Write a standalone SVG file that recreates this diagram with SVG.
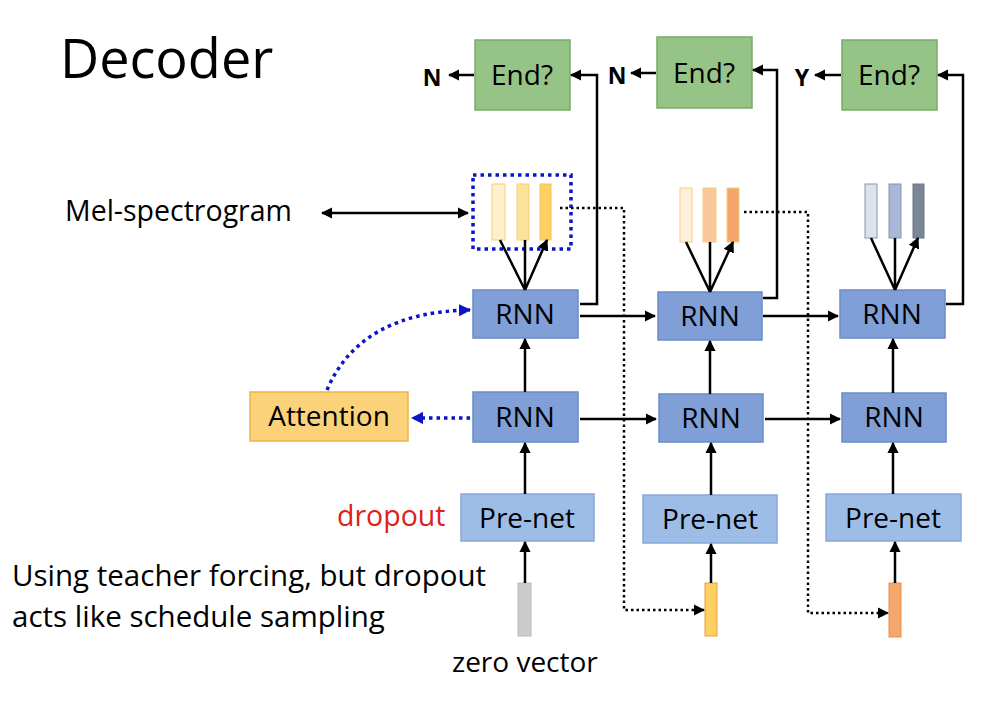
<svg xmlns="http://www.w3.org/2000/svg" width="988" height="701" viewBox="0 0 988 701">
<defs>
<style>
text{font-family:"Open Sans","Liberation Sans",sans-serif;fill:#000}
.end{fill:#96c486;stroke:#7aaa6a;stroke-width:1.5}
.rnn{fill:#7f9fd6;stroke:#6a8cc8;stroke-width:1.5}
.pre{fill:#9dbde6;stroke:#86a8d8;stroke-width:1.5}
.lbl{font-size:28px;text-anchor:middle}
.ln{stroke:#000;stroke-width:2.5;fill:none}
.dot{stroke:#000;stroke-width:2.5;fill:none;stroke-dasharray:2.5 3}
.bd{stroke:#0a14c8;stroke-width:3.5;fill:none;stroke-dasharray:3.5 4}
</style>
<marker id="a" viewBox="0 0 10 10" refX="9" refY="5" markerWidth="4.5" markerHeight="4.5" orient="auto-start-reverse"><path d="M0 0L10 5L0 10z" fill="#000"/></marker>
<marker id="b" viewBox="0 0 10 10" refX="9" refY="5" markerWidth="3.5" markerHeight="3.5" orient="auto"><path d="M0 0L10 5L0 10z" fill="#0a14c8"/></marker>
</defs>
<rect width="988" height="701" fill="#fff"/>
<text x="60" y="78" font-size="54">Decoder</text>
<g id="col1">
<rect class="end" x="475" y="40" width="95" height="70"/><text class="lbl" x="522" y="85">End?</text>
<rect x="492" y="184" width="13" height="56" fill="#fdf0cc" stroke="#f3cf7a"/>
<rect x="517" y="184" width="12" height="56" fill="#fde29a" stroke="#f3cf7a"/>
<rect x="540" y="184" width="11" height="56" fill="#fdd060" stroke="#f0c060"/>
<rect class="bd" x="473" y="175" width="98" height="74"/>
<rect class="rnn" x="473" y="290" width="105" height="48"/><text class="lbl" x="525" y="324">RNN</text>
<rect class="rnn" x="473" y="392" width="105" height="50"/><text class="lbl" x="525" y="427">RNN</text>
<rect class="pre" x="461" y="494" width="133" height="47"/><text class="lbl" x="527" y="528">Pre-net</text>
<rect x="518" y="583" width="13" height="53" fill="#cccccc" stroke="#bbb"/>
</g>
<g id="col2">
<rect class="end" x="657" y="37" width="95" height="71"/><text class="lbl" x="704" y="83">End?</text>
<rect x="680" y="188" width="12" height="54" fill="#fdeedd" stroke="#f3cf7a"/>
<rect x="703" y="188" width="13" height="54" fill="#f8c89a" stroke="#f3cf7a"/>
<rect x="727" y="188" width="12" height="54" fill="#f5a66a" stroke="#f3cf7a"/>
<rect class="rnn" x="658" y="292" width="104" height="48"/><text class="lbl" x="710" y="326">RNN</text>
<rect class="rnn" x="659" y="394" width="104" height="48"/><text class="lbl" x="711" y="428">RNN</text>
<rect class="pre" x="643" y="495" width="134" height="48"/><text class="lbl" x="710" y="529">Pre-net</text>
<rect x="705" y="583" width="12" height="53" fill="#fdd060" stroke="#e8a040"/>
</g>
<g id="col3">
<rect class="end" x="842" y="40" width="95" height="70"/><text class="lbl" x="889" y="85">End?</text>
<rect x="865" y="184" width="12" height="54" fill="#dde3ee" stroke="#8a94a8"/>
<rect x="889" y="184" width="12" height="54" fill="#a9b8d8" stroke="#8a94a8"/>
<rect x="913" y="184" width="11" height="54" fill="#7a8698" stroke="#6a7488"/>
<rect class="rnn" x="840" y="290" width="105" height="48"/><text class="lbl" x="892" y="324">RNN</text>
<rect class="rnn" x="842" y="393" width="104" height="49"/><text class="lbl" x="894" y="427">RNN</text>
<rect class="pre" x="826" y="494" width="135" height="47"/><text class="lbl" x="893" y="528">Pre-net</text>
<rect x="889" y="583" width="12" height="54" fill="#f5a66a" stroke="#e89050"/>
</g>
<g id="attention">
<rect x="250" y="392" width="158" height="49" fill="#fbd27a" stroke="#f0b24a" stroke-width="1.5"/>
<text class="lbl" x="329" y="426">Attention</text>
</g>
<g id="labels">
<text x="65" y="221" font-size="28.5">Mel-spectrogram</text>
<text x="337" y="526" font-size="28.5" style="fill:#e0201a">dropout</text>
<text x="12" y="586" font-size="29.5">Using teacher forcing, but dropout</text>
<text x="12" y="627" font-size="29.5">acts like schedule sampling</text>
<text x="452" y="672" font-size="28">zero vector</text>
<text x="432" y="86" font-size="23" font-weight="bold" text-anchor="middle">N</text>
<text x="617" y="84" font-size="23" font-weight="bold" text-anchor="middle">N</text>
<text x="802" y="86" font-size="23" font-weight="bold" text-anchor="middle">Y</text>
</g>
<g id="connectors">
<path class="ln" marker-end="url(#a)" d="M474 75H449"/>
<path class="ln" marker-end="url(#a)" d="M656 73H631"/>
<path class="ln" marker-end="url(#a)" d="M841 75H815"/>
<path class="ln" marker-end="url(#a)" d="M580 304H597V75H571"/>
<path class="ln" marker-end="url(#a)" d="M763 298H777V70H753"/>
<path class="ln" marker-end="url(#a)" d="M946 304H963V75H938"/>
<path class="ln" stroke-width="4" marker-start="url(#a)" marker-end="url(#a)" d="M322 213H468"/>
<path class="ln" marker-end="url(#a)" d="M525 290L500 240M525 290V240M525 290L547 240"/>
<path class="ln" marker-end="url(#a)" d="M710 292L686 242M710 292V242M710 292L733 242"/>
<path class="ln" marker-end="url(#a)" d="M895 290L871 238M895 290V238M895 290L918 238"/>
<path class="ln" marker-end="url(#a)" d="M580 316H655"/>
<path class="ln" marker-end="url(#a)" d="M763 316H838"/>
<path class="ln" marker-end="url(#a)" d="M580 419H656"/>
<path class="ln" marker-end="url(#a)" d="M765 419H840"/>
<path class="ln" marker-end="url(#a)" d="M525 392V339"/>
<path class="ln" marker-end="url(#a)" d="M710 394V341"/>
<path class="ln" marker-end="url(#a)" d="M893 393V339"/>
<path class="ln" marker-end="url(#a)" d="M525 494V443"/>
<path class="ln" marker-end="url(#a)" d="M711 495V443"/>
<path class="ln" marker-end="url(#a)" d="M893 494V443"/>
<path class="ln" marker-end="url(#a)" d="M525 583V542"/>
<path class="ln" marker-end="url(#a)" d="M711 583V544"/>
<path class="ln" marker-end="url(#a)" d="M895 583V542"/>
<path class="dot" marker-end="url(#a)" d="M560 208H624V610H704"/>
<path class="dot" marker-end="url(#a)" d="M744 212H808V613H888"/>
<path class="bd" marker-end="url(#b)" d="M470 418H412"/>
<path class="bd" marker-end="url(#b)" d="M327 390Q360 312 470 310"/>
</g>
</svg>
